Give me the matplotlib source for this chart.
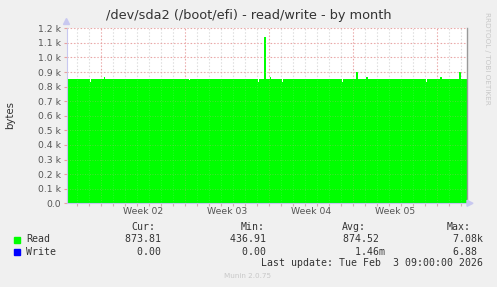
import matplotlib
matplotlib.use("Agg")
import matplotlib.pyplot as plt
import numpy as np

W, H = 497, 287

# ---- data (hours before last update, step values) ----
read_hours = [-800, -754, -752, -726, -724, -556, -554, -418, -416, -406, -402,
              -394, -391, -370, -368, -250, -248, -222, -218, -202, -197,
              -82, -80, -53, -50, -15, -11, 0]
read_values = [855, 835, 855, 866, 855, 848, 855, 830, 855, 1140, 855,
               866, 855, 832, 855, 835, 855, 900, 855, 867, 855,
               835, 855, 867, 855, 900, 855, 855]
write_hours = [-800, 0]
write_values = [0.0, 0.0]

y_ticks = [0, 100, 200, 300, 400, 500, 600, 700, 800, 900, 1000, 1100, 1200]
y_labels = ["0.0", "0.1 k", "0.2 k", "0.3 k", "0.4 k", "0.5 k", "0.6 k",
            "0.7 k", "0.8 k", "0.9 k", "1.0 k", "1.1 k", "1.2 k"]
week_labels = ["Week 02", "Week 03", "Week 04", "Week 05"]
week_starts = [-30.44, -23.44, -16.44, -9.44, -2.44]   # days before end

legend_names = ["Read", "Write"]
legend_colors = ["#00FF00", "#0000FF"]
cur_vals = ["873.81 ", "  0.00 "]
min_vals = ["436.91 ", "  0.00 "]
avg_vals = ["874.52 ", "  1.46m"]
max_vals = ["  7.08k", "  6.88 "]

x_start, x_end = -800 / 24, 0.0

fig = plt.figure(figsize=(W / 100, H / 100), dpi=100)
fig.patch.set_facecolor("#F0F0F0")

L, R, T, B = 66.5, 466.7, 28.3, 203.3
ax = fig.add_axes([L / W, (H - B) / H, (R - L) / W, (B - T) / H])
ax.set_facecolor("white")
ax.set_xlim(x_start, x_end)
ax.set_ylim(0, 1200)

rd = np.array(read_hours) / 24.0
wd = np.array(write_hours) / 24.0

# grid
for d in np.arange(week_starts[0] - 7, x_end, 1.0):
    pass
minor_days = []
d = week_starts[-1]
while d > x_start:
    minor_days.append(d)
    d -= 1.0
d = week_starts[-1] + 1
while d < x_end:
    minor_days.append(d)
    d += 1.0
for d in minor_days:
    is_major = any(abs(d - w) < 1e-6 for w in week_starts)
    if not is_major:
        ax.axvline(d, color="#D8D8D8", lw=0.8, ls=(0, (1, 2)), zorder=1)
for w in week_starts:
    ax.axvline(w, color="#E8A0A0", lw=0.8, ls=(0, (1, 2)), zorder=1)
for y in y_ticks:
    ax.axhline(y, color="#E8A0A0", lw=0.8, ls=(0, (1, 2)), zorder=1)

ax.fill_between(rd, read_values, 0, step="post", color="#00FF00", lw=0, zorder=2)
ax.plot(wd, write_values, color="#0000FF", lw=0.8, alpha=0.5, zorder=3)

# regrid over fill (munin draws grid above area)
for d in minor_days:
    is_major = any(abs(d - w) < 1e-6 for w in week_starts)
    if not is_major:
        ax.axvline(d, color="#D8D8D8", lw=0.6, ls=(0, (1, 2)), alpha=0.25, zorder=4)
for w in week_starts:
    ax.axvline(w, color="#E8A0A0", lw=0.6, ls=(0, (1, 2)), alpha=0.4, zorder=4)
for y in y_ticks[1:]:
    ax.axhline(y, color="#E8A0A0", lw=0.6, ls=(0, (1, 2)), alpha=0.4, zorder=4)

for s in ["top"]:
    ax.spines[s].set_visible(False)
ax.spines["right"].set_color("#999999")
ax.spines["right"].set_linewidth(1.0)
ax.spines["left"].set_color("#C8C8F0")
ax.spines["bottom"].set_color("#C8C8F0")
ax.spines["left"].set_linewidth(0.8)
ax.spines["bottom"].set_linewidth(0.8)

ax.set_yticks(y_ticks)
ax.set_yticklabels(y_labels)
ax.tick_params(axis="y", length=2, width=0.8, color="#E8A0A0", labelsize=6.7,
               labelcolor="#555555", pad=2)
ax.set_xticks([w + 3.5 for w in week_starts[:4]])
ax.set_xticklabels(week_labels)
ax.tick_params(axis="x", length=0, labelsize=6.7, labelcolor="#555555", pad=3)
ax.set_xticks(minor_days, minor=True)
ax.tick_params(axis="x", which="minor", length=2, width=0.8, color="#D0B0B0")

# arrows
def px(x, y):
    return x / W, 1 - y / H

fig.patches.append(matplotlib.patches.Polygon(
    [px(63.5, 24.5), px(69.5, 24.5), px(66.5, 18.5)], closed=True,
    transform=fig.transFigure, color="#C8C8F0"))
fig.patches.append(matplotlib.patches.Polygon(
    [px(467, 200.3), px(467, 206.3), px(473, 203.3)], closed=True,
    transform=fig.transFigure, color="#C8C8F0"))

fig.text(*px(249, 16), "/dev/sda2 (/boot/efi) - read/write - by month",
         ha="center", va="center", fontsize=9.3, color="#333333")
fig.text(*px(10, 115), "bytes", ha="center", va="center", rotation=90,
         fontsize=7.3, color="#333333")
fig.text(*px(487, 58), "RRDTOOL / TOBI OETIKER", ha="center", va="center",
         rotation=270, fontsize=5.2, color="#C8C8C8")

mono = dict(family="DejaVu Sans Mono", fontsize=7.1, color="#333333")
fig.text(*px(131.7, 227), "Cur:", ha="left", va="center", **mono)
fig.text(*px(240.7, 227), "Min:", ha="left", va="center", **mono)
fig.text(*px(341.7, 227), "Avg:", ha="left", va="center", **mono)
fig.text(*px(446.7, 227), "Max:", ha="left", va="center", **mono)
rows_y = [239.5, 251.7]
for i in range(2):
    y = rows_y[i]
    fig.patches.append(matplotlib.patches.Rectangle(
        px(14, y + 3), 6 / W, 6 / H, transform=fig.transFigure,
        color=legend_colors[i]))
    fig.text(*px(26, y), legend_names[i], ha="left", va="center", **mono)
    fig.text(*px(167, y), cur_vals[i], ha="right", va="center", **mono)
    fig.text(*px(272, y), min_vals[i], ha="right", va="center", **mono)
    fig.text(*px(385, y), avg_vals[i], ha="right", va="center", **mono)
    fig.text(*px(482.7, y), max_vals[i], ha="right", va="center", **mono)
fig.text(*px(482.7, 263.5), "Last update: Tue Feb  3 09:00:00 2026",
         ha="right", va="center", **mono)
fig.text(*px(248, 276), "Munin 2.0.75", ha="center", va="center",
         fontsize=5.2, color="#C8C8C8")

fig.savefig("out.png", dpi=100, facecolor=fig.get_facecolor())
